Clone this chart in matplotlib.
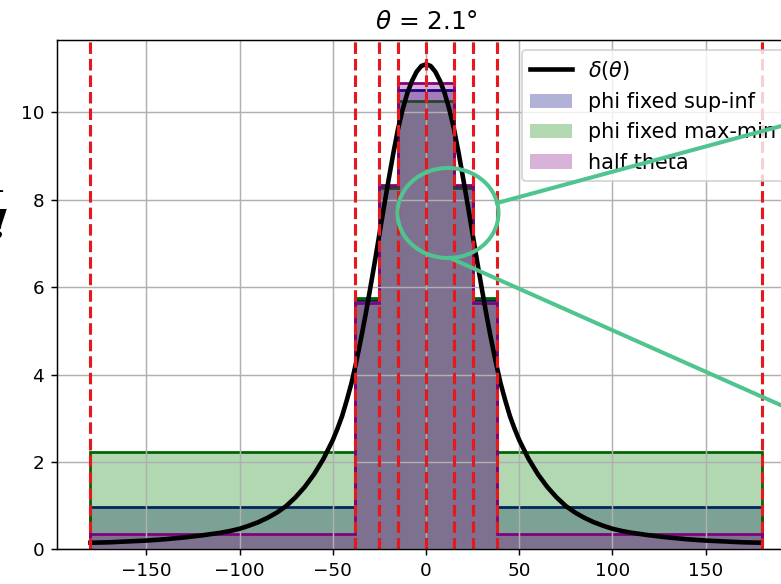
import matplotlib
matplotlib.use('Agg')
import matplotlib.pyplot as plt
import numpy as np
from matplotlib.patches import Ellipse
from matplotlib.lines import Line2D

# bin edges (deg) and bin heights
edges = [-180, -38, -25, -15, 0, 15, 25, 38, 180]
sup_inf = [0.97, 5.70, 8.30, 10.50, 10.50, 8.30, 5.70, 0.97]
max_min = [2.23, 5.75, 8.26, 10.27, 10.27, 8.26, 5.75, 2.23]
half_theta = [0.34, 5.64, 8.33, 10.66, 10.66, 8.33, 5.64, 0.34]

# delta(theta) curve, positive half (symmetric about 0)
theta_pos = [0, 2.5, 5, 7.5, 10, 12.5, 15, 17.5, 20, 22.5, 25, 27.5, 30, 32.5,
             35, 37.5, 40, 42.5, 45, 47.5, 50, 55, 60, 65, 70, 75, 80, 85, 90,
             95, 100, 105, 110, 115, 120, 130, 140, 150, 160, 170, 180]
delta_pos = [11.10, 11.06, 10.93, 10.72, 10.44, 10.07, 9.62, 9.07, 8.47, 7.85,
             7.21, 6.57, 5.95, 5.35, 4.79, 4.27, 3.80, 3.41, 3.05, 2.76, 2.50,
             2.07, 1.72, 1.43, 1.19, 0.99, 0.84, 0.72, 0.62, 0.54, 0.47, 0.42,
             0.38, 0.35, 0.32, 0.27, 0.23, 0.20, 0.18, 0.16, 0.15]

vlines = [-180, -38, -25, -15, 0, 15, 25, 38, 180]

theta = np.concatenate([-np.array(theta_pos[:0:-1]), theta_pos])
delta = np.concatenate([delta_pos[:0:-1], delta_pos])

W, H, dpi = 781, 584, 132
fig = plt.figure(figsize=(W / dpi, H / dpi), dpi=dpi)
ax = fig.add_axes([56.9 / W, 34.7 / H, 738.2 / W, 509.3 / H])

ax.plot(theta, delta, 'k', lw=2.5, label=r'$\delta(\theta)$')

ax.stairs(sup_inf, edges, fill=True, color='navy', alpha=0.3, label='phi fixed sup-inf')
ax.stairs(sup_inf, edges, color='navy', lw=1.5)
ax.stairs(max_min, edges, fill=True, color='green', alpha=0.3, label='phi fixed max-min')
ax.stairs(max_min, edges, color='darkgreen', lw=1.5)
ax.stairs(half_theta, edges, fill=True, color='purple', alpha=0.3, label='half theta')
ax.stairs(half_theta, edges, color='purple', lw=1.5)

for v in vlines:
    ax.axvline(v, color='#e3191e', ls='--', lw=1.7)

ax.set_xlim(-198, 198)
ax.set_ylim(0, 11.655)
ax.set_xticks([-150, -100, -50, 0, 50, 100, 150])
ax.set_yticks([0, 2, 4, 6, 8, 10])
ax.grid(True)
ax.set_title(r'$\theta$ = 2.1°', fontsize=13.5)
ax.legend(loc='upper right', fontsize=11.3)

# slide annotation drawn over the figure
green = '#50c48f'
fig.add_artist(Ellipse((448 / W, 1 - 213 / H), 101 / W, 90 / H, fill=False,
                       edgecolor=green, lw=2.2, transform=fig.transFigure))
fig.add_artist(Line2D([497 / W, 785 / W], [1 - 203 / H, 1 - 125 / H], color=green,
                      lw=2.2, transform=fig.transFigure))
fig.add_artist(Line2D([450 / W, 785 / W], [1 - 258 / H, 1 - 407 / H], color=green,
                      lw=2.2, transform=fig.transFigure))

# cropped slide text at the left edge
fig.text(4 / W, 1 - 192 / H, 'l', ha='right', va='baseline', fontsize=21,
         family='DejaVu Serif')
fig.text(8 / W, 1 - 238 / H, '!', ha='right', va='baseline', fontsize=21,
         family='DejaVu Serif', weight='bold', style='italic')

fig.savefig('out.png', dpi=dpi)
